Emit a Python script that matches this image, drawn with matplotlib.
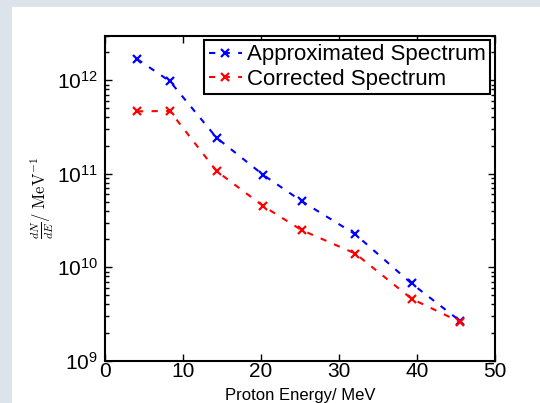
import math
import matplotlib
matplotlib.use('Agg')
import matplotlib.pyplot as plt
from matplotlib.patches import Rectangle
from matplotlib.ticker import FixedLocator, FuncFormatter, LogLocator

plt.rcParams['font.family'] = ['Liberation Sans', 'DejaVu Sans']
plt.rcParams['mathtext.fontset'] = 'custom'
plt.rcParams['mathtext.rm'] = 'Liberation Sans'
plt.rcParams['mathtext.it'] = 'Liberation Sans:italic'

# data
energy = [4.1, 8.3, 14.3, 20.3, 25.2, 32.1, 39.3, 45.5]
approx = [1.69e12, 9.8e11, 2.43e11, 9.7e10, 5.1e10, 2.25e10, 6.7e9, 2.67e9]
corrected = [4.65e11, 4.7e11, 1.07e11, 4.5e10, 2.5e10, 1.4e10, 4.6e9, 2.6e9]
series_names = ['Approximated Spectrum', 'Corrected Spectrum']
x_ticks = [0, 10, 20, 30, 40, 50]
y_ticks = [1e9, 1e10, 1e11, 1e12]

fig = plt.figure(figsize=(5.4, 4.03), dpi=100, facecolor='#dce3ea')
# white panel behind the plot
fig.patches.append(Rectangle((12 / 540, 0), 1, 396 / 403, transform=fig.transFigure,
                             facecolor='white', edgecolor='none', zorder=-10))

ax = fig.add_axes([105 / 540, 42.3 / 403, 390 / 540, 325 / 403])
ax.plot(energy, approx, 'b--x', lw=1.5, ms=6, mew=1.6, dashes=(3, 4), label=series_names[0])
ax.plot(energy, corrected, 'r--x', lw=1.5, ms=6, mew=1.6, dashes=(3, 4), label=series_names[1])

ax.set_yscale('log')
ax.set_xlim(0, 50)
ax.set_ylim(1e9, 3e12)
ax.xaxis.set_major_locator(FixedLocator(x_ticks))
ax.yaxis.set_major_locator(FixedLocator(y_ticks))
ax.yaxis.set_minor_locator(LogLocator(base=10, subs=range(2, 10)))
ax.yaxis.set_major_formatter(FuncFormatter(lambda v, p: r'$\mathregular{10^{%d}}$' % round(math.log10(v))))

for s in ax.spines.values():
    s.set_linewidth(1.5)
ax.tick_params(which='both', direction='in', top=True, right=True, width=1)
ax.tick_params(which='major', length=5, labelsize=15)
ax.tick_params(which='minor', length=3)
ax.tick_params(axis='x', pad=1)
ax.tick_params(axis='y', pad=5)

ax.set_xlabel('Proton Energy/ MeV', fontsize=12)
ax.xaxis.set_label_coords(0.5, -0.083)
ax.set_ylabel(r'$\frac{dN}{dE}/\ \mathrm{MeV}^{-1}$', fontsize=12, math_fontfamily='cm')
ax.yaxis.set_label_coords(-0.125, 0.5)

leg = ax.legend(loc='upper right', bbox_to_anchor=(0.987, 0.987), borderaxespad=0,
                fontsize=16, handlelength=1.5, handletextpad=0.2, labelspacing=0.15,
                borderpad=0.2, fancybox=False, framealpha=1)
leg.get_frame().set_edgecolor('black')
leg.get_frame().set_linewidth(1.5)

fig.savefig('out.png', dpi=100, facecolor=fig.get_facecolor())
